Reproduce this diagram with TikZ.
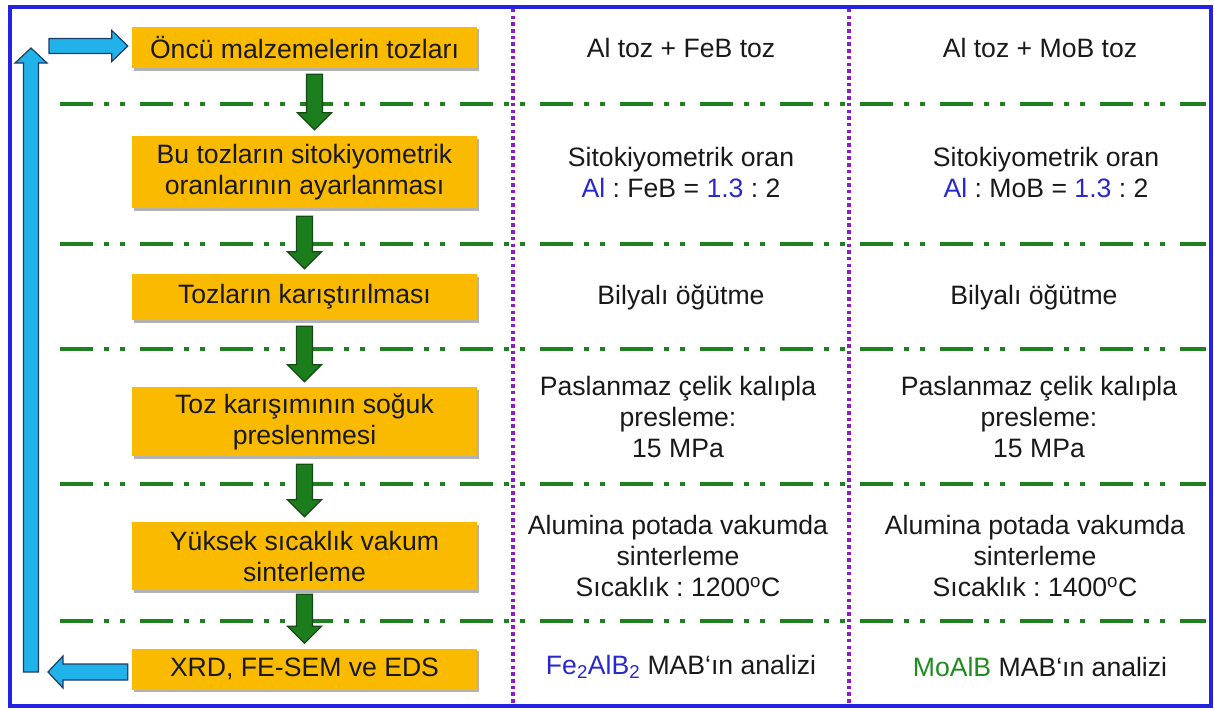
\documentclass[tikz,border=0pt]{standalone}
\usepackage{fontspec}
\setmainfont{Liberation Sans}
\usetikzlibrary{calc,shadows}
\definecolor{boxorange}{RGB}{250,186,0}
\definecolor{gline}{RGB}{30,128,30}
\definecolor{garrowfill}{RGB}{28,125,28}
\definecolor{garrowdraw}{RGB}{20,75,20}
\definecolor{barrowfill}{RGB}{32,178,232}
\definecolor{barrowdraw}{RGB}{30,60,100}
\definecolor{pline}{RGB}{140,30,200}
\definecolor{frameblue}{RGB}{35,35,225}
\definecolor{tblue}{RGB}{40,40,205}
\definecolor{tgreen}{RGB}{30,140,30}
\newcommand\mybigfont{\fontsize{26.6pt}{31pt}\selectfont\frenchspacing}
% block arrows: #1 style, #2 start, #3 tip, #4 half shaft, #5 half head, #6 head length
\newcommand\blkDown[6]{\filldraw[#1] let \p1=(#2), \p2=(#3) in
  (\x1-#4,\y1) -- (\x1+#4,\y1) -- (\x1+#4,\y2+#6) -- (\x1+#5,\y2+#6) -- (\x1,\y2)
  -- (\x1-#5,\y2+#6) -- (\x1-#4,\y2+#6) -- cycle;}
\newcommand\blkUp[6]{\filldraw[#1] let \p1=(#2), \p2=(#3) in
  (\x1-#4,\y1) -- (\x1+#4,\y1) -- (\x1+#4,\y2-#6) -- (\x1+#5,\y2-#6) -- (\x1,\y2)
  -- (\x1-#5,\y2-#6) -- (\x1-#4,\y2-#6) -- cycle;}
\newcommand\blkRight[6]{\filldraw[#1] let \p1=(#2), \p2=(#3) in
  (\x1,\y1-#4) -- (\x1,\y1+#4) -- (\x2-#6,\y1+#4) -- (\x2-#6,\y1+#5) -- (\x2,\y1)
  -- (\x2-#6,\y1-#5) -- (\x2-#6,\y1-#4) -- cycle;}
\newcommand\blkLeft[6]{\filldraw[#1] let \p1=(#2), \p2=(#3) in
  (\x1,\y1-#4) -- (\x1,\y1+#4) -- (\x2+#6,\y1+#4) -- (\x2+#6,\y1+#5) -- (\x2,\y1)
  -- (\x2+#6,\y1-#5) -- (\x2+#6,\y1-#4) -- cycle;}
\tikzset{
  stepbox/.style={fill=boxorange, minimum width=345pt, inner sep=0pt, align=center,
    font=\mybigfont, text=black!90,
    drop shadow={shadow xshift=1.5pt, shadow yshift=-2.5pt, fill=black, opacity=0.3}},
  coltext/.style={align=center, font=\mybigfont, text=black!90, inner sep=0pt},
  sepline/.style={gline, line width=4.8pt,
    dash pattern=on 33pt off 11pt on 4.5pt off 11.5pt on 4.5pt off 15.5pt},
  colline/.style={pline, line width=4pt, dash pattern=on 3.5pt off 3.2pt},
  garrow/.style={fill=garrowfill, draw=garrowdraw, line width=1.2pt, line join=miter},
  barrow/.style={fill=barrowfill, draw=barrowdraw, line width=1.2pt, line join=miter},
}
\begin{document}
\begin{tikzpicture}[x=1pt,y=-1pt]
\useasboundingbox (0,0) rectangle (1214,709);
\fill[white] (0,0) rectangle (1214,709);

% separator lines
\foreach \yy in {104,244,349,484,621}
  \draw[sepline] (60,\yy) -- (1206,\yy);

% column separators
\draw[colline] (513,9) -- (513,704);
\draw[colline] (849,9) -- (849,704);

% frame
\draw[frameblue, line width=4pt] (10,7) rectangle (1211,706);

% step boxes
\node[stepbox, minimum height=41pt] (b1) at (304.5,47.5) {Öncü malzemelerin tozları};
\node[stepbox, minimum height=72pt] (b2) at (304.5,172) {Bu tozların sitokiyometrik\\oranlarının ayarlanması};
\node[stepbox, minimum height=46pt] (b3) at (304.5,297) {Tozların karıştırılması};
\node[stepbox, minimum height=69pt] (b4) at (304.5,421.5) {Toz karışımının soğuk\\preslenmesi};
\node[stepbox, minimum height=68pt] (b5) at (304.5,556) {Yüksek sıcaklık vakum\\sinterleme};
\node[stepbox, minimum height=41pt] (b6) at (304.5,669) {XRD, FE-SEM ve EDS};

% green arrows
\blkDown{garrow}{$(b1.south)+(10,6)$}{$(b2.north)+(10,-6)$}{8}{17}{17}
\blkDown{garrow}{$(b2.south)+(0,8)$}{$(b3.north)+(0,-5)$}{8}{17}{17}
\blkDown{garrow}{$(b3.south)+(0,6)$}{$(b4.north)+(0,-5)$}{8}{17}{17}
\blkDown{garrow}{$(b4.south)+(0,8)$}{$(b5.north)+(0,-5)$}{8}{17}{17}
\blkDown{garrow}{$(b5.south)+(0,4)$}{$(b6.north)+(0,-5)$}{8}{17}{17}

% blue loop arrows
\coordinate (loopB) at (31,672);
\coordinate (loopT) at (31,46);
\blkLeft{barrow}{$(b6.west)+(-4,3)$}{$(loopB)+(17,0)$}{8}{16}{15}
\blkUp{barrow}{loopB}{$(loopT)+(0,2)$}{7.5}{16}{15}
\blkRight{barrow}{$(loopT)+(18,0)$}{$(b1.west)+(-4,0)$}{7.5}{15.5}{16}

% column 2
\node[coltext] (c21) at (681,47.5) {Al toz + FeB toz};
\node[coltext] (c22) at (681,172.5) {Sitokiyometrik oran\\{\color{tblue}Al} : FeB = {\color{tblue}1.3} : 2};
\node[coltext] (c23) at (681,297) {Bilyalı öğütme};
\node[coltext] (c24) at (678,416.5) {Paslanmaz çelik kalıpla\\presleme:\\15 MPa};
\node[coltext] (c25) at (678,556) {Alumina potada vakumda\\sinterleme\\Sıcaklık : 1200\textsuperscript{o}C};
\node[coltext] (c26) at (681,667) {{\color{tblue}Fe\textsubscript{2}AlB\textsubscript{2}} MAB‘ın analizi};

% column 3
\node[coltext] (c31) at (1040,47.5) {Al toz + MoB toz};
\node[coltext] (c32) at (1046,172.5) {Sitokiyometrik oran\\{\color{tblue}Al} : MoB = {\color{tblue}1.3} : 2};
\node[coltext] (c33) at (1034,297) {Bilyalı öğütme};
\node[coltext] (c34) at (1039,416.5) {Paslanmaz çelik kalıpla\\presleme:\\15 MPa};
\node[coltext] (c35) at (1035,556) {Alumina potada vakumda\\sinterleme\\Sıcaklık : 1400\textsuperscript{o}C};
\node[coltext] (c36) at (1040,667) {{\color{tgreen}MoAlB} MAB‘ın analizi};
\end{tikzpicture}
\end{document}
